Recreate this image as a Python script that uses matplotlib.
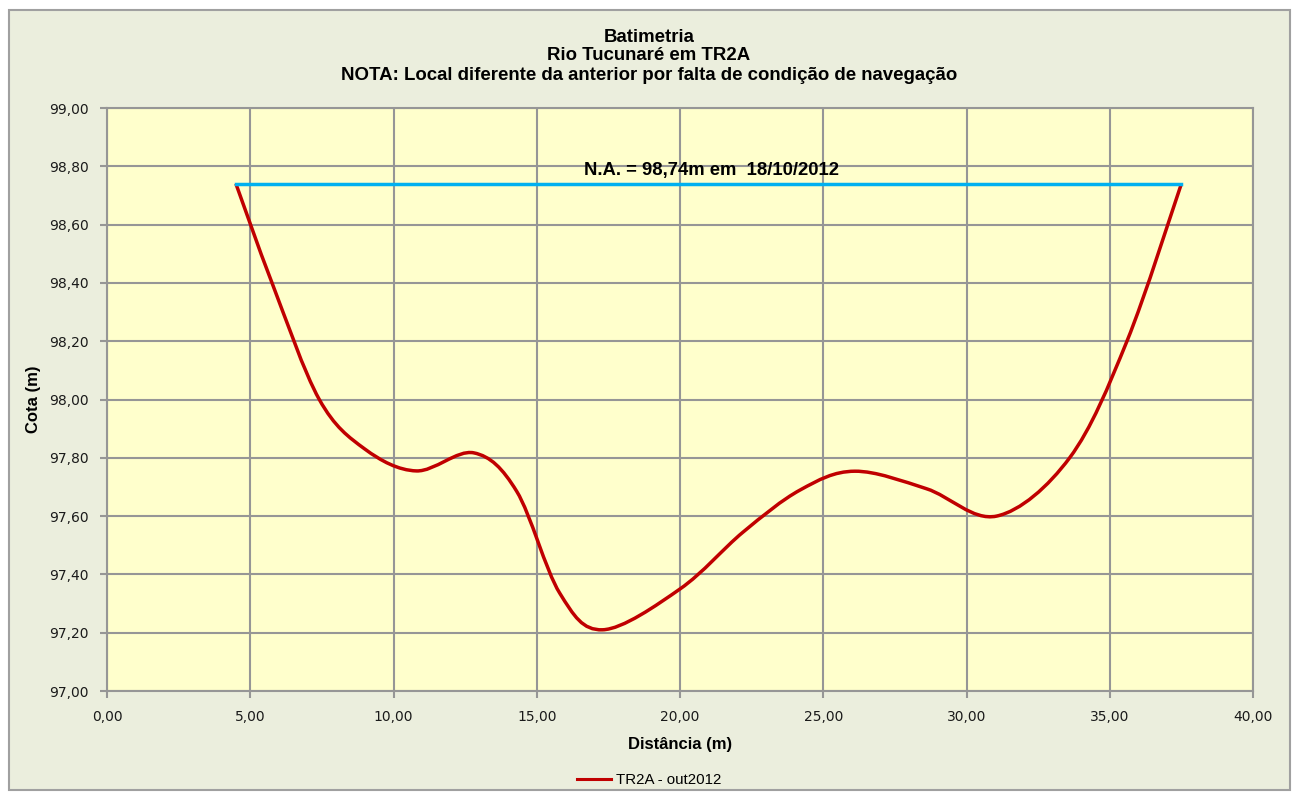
import numpy as np
import matplotlib
matplotlib.use("Agg")
import matplotlib.pyplot as plt
from matplotlib.path import Path
from matplotlib.patches import PathPatch, Rectangle
from matplotlib.lines import Line2D
from matplotlib.ticker import FuncFormatter

# survey points (distance, elevation)
dist = [4.50, 5.76, 7.41, 9.00, 10.80, 12.80, 14.30, 15.80, 17.30, 20.00,
        22.20, 24.20, 26.10, 28.60, 31.05, 33.60, 35.60, 37.50]
cota = [98.74, 98.40, 98.00, 97.83, 97.755, 97.817, 97.685, 97.336, 97.21, 97.35,
        97.545, 97.69, 97.754, 97.694, 97.60, 97.80, 98.20, 98.74]

na_level = 98.74
na_label = "N.A. = 98,74m em  18/10/2012"
series_name = "TR2A - out2012"
titles = ["Batimetria", "Rio Tucunaré em TR2A",
          "NOTA: Local diferente da anterior por falta de condição de navegação"]

FONT = "Liberation Sans"


def smooth_path(xs, ys):
    # Excel-like smoothed line (Catmull-Rom as cubic Bezier)
    pts = np.column_stack([xs, ys])
    n = len(pts)
    verts = [pts[0]]
    codes = [Path.MOVETO]
    for i in range(n - 1):
        p0 = pts[i - 1] if i > 0 else pts[i]
        p1 = pts[i]
        p2 = pts[i + 1]
        p3 = pts[i + 2] if i + 2 < n else pts[i + 1]
        verts += [p1 + (p2 - p0) / 6, p2 - (p3 - p1) / 6, p2]
        codes += [Path.CURVE4] * 3
    return Path(verts, codes)


fig = plt.figure(figsize=(12.98, 7.99), dpi=100, facecolor="white")
fig.patches.append(Rectangle((9 / 1298, 1 - 790 / 799), 1281 / 1298, 780 / 799,
                             transform=fig.transFigure, facecolor="#EBEEDD",
                             edgecolor="#A0A0A0", linewidth=1.5, zorder=-10))

ax = fig.add_axes([107 / 1298, 1 - 691 / 799, 1146 / 1298, 583 / 799])
ax.set_facecolor("#FFFFCC")
ax.set_xlim(0, 40)
ax.set_ylim(97, 99)
ax.set_xticks(np.arange(0, 41, 5))
ax.set_yticks(np.arange(97, 99.01, 0.2))
fmt = FuncFormatter(lambda v, p: f"{v:.2f}".replace(".", ","))
ax.xaxis.set_major_formatter(fmt)
ax.yaxis.set_major_formatter(fmt)
ax.grid(True, color="#969696", linewidth=1.5)
ax.set_axisbelow(True)
for s in ax.spines.values():
    s.set_color("#969696")
    s.set_linewidth(1.5)
ax.tick_params(direction="out", length=5, width=1.5, color="#969696",
               labelsize=10, labelcolor="#1A1A1A")
ax.tick_params(axis="x", pad=9)
ax.tick_params(axis="y", pad=8)
for lab in ax.get_xticklabels() + ax.get_yticklabels():
    lab.set_fontfamily("DejaVu Sans")

ax.plot([dist[0], dist[-1]], [na_level, na_level], color="#00B0F0", linewidth=2.5)
ax.add_patch(PathPatch(smooth_path(dist, cota), facecolor="none",
                       edgecolor="#C00000", linewidth=2.5))
ax.text(21.1, 98.785, na_label, ha="center", va="center", fontsize=13.3,
        fontweight="bold", family=FONT, color="black")

ax.set_xlabel("Distância (m)", fontsize=12, fontweight="bold", family=FONT, labelpad=9)
ax.set_ylabel("Cota (m)", fontsize=12, fontweight="bold", family=FONT, labelpad=6)

for i, t in enumerate(titles):
    fig.text(0.5, 1 - (37 + 19 * i) / 799, t, ha="center", va="center",
             fontsize=13.4, fontweight="bold", family=FONT)

handle = Line2D([], [], color="#C00000", linewidth=2.2)
fig.legend([handle], [series_name], loc="center", bbox_to_anchor=(0.5, 1 - 780 / 799),
           frameon=False, prop={"family": FONT, "size": 10.8}, handlelength=2.3,
           handletextpad=0.3)

fig.savefig("out.png", dpi=100, facecolor="white")
